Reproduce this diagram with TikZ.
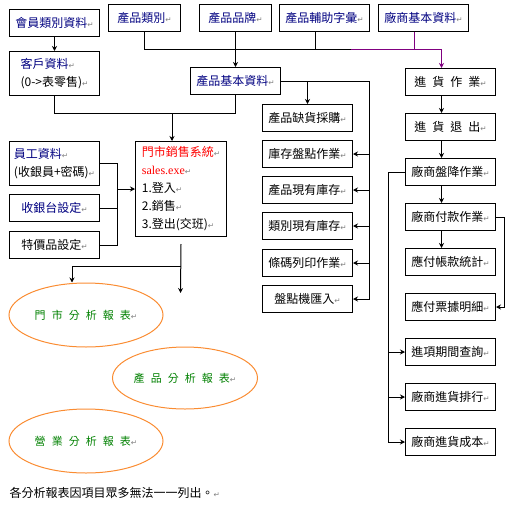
\documentclass[tikz,border=0pt]{standalone}
\usepackage{fontspec}
\setmainfont{Noto Sans CJK TC}
\newfontfamily\symfont{DejaVu Sans}
\newfontfamily\exefont{Liberation Serif}
\newfontfamily\widefont[LetterSpace=50]{Noto Sans CJK TC}
\newfontfamily\repfont[LetterSpace=55]{Noto Sans CJK TC}
\usetikzlibrary{arrows.meta,shapes.geometric}
\definecolor{navy}{RGB}{0,0,128}
\definecolor{posred}{RGB}{255,0,0}
\definecolor{repgreen}{RGB}{0,128,0}
\definecolor{ellorange}{RGB}{250,140,50}
\definecolor{vendpurple}{RGB}{128,0,128}
\newcommand\retmark{{\symfont\color{gray}\fontsize{7.5}{7.5}\selectfont ↵}}
\tikzset{
  box/.style={draw, minimum width=90pt, minimum height=27pt, inner sep=2pt,
    align=left, anchor=north west, font=\fontsize{12}{18}\selectfont},
  narrow/.style={box, minimum width=72pt},
  wide/.style={font=\widefont\fontsize{12}{18}\selectfont},
  report/.style={ellipse, draw=ellorange, inner sep=0pt, minimum width=154pt,
    minimum height=64pt, text=repgreen, font=\repfont\fontsize{11}{13}\selectfont},
  arr/.style={-{Stealth[length=5pt,width=5pt]}},
}

\begin{document}
\begin{tikzpicture}[x=1pt,y=-1pt,line width=1pt]
  \useasboundingbox (0,0) rectangle (511,506);

  % riga superiore
  \node[box,text=navy] (memtype) at (9,9) {會員類別資料\retmark};
  \node[narrow,text=navy] (prodcat) at (108,4) {產品類別\retmark};
  \node[narrow,text=navy] (brand) at (199,4) {產品品牌\retmark};
  \node[box,text=navy] (prodaux) at (279,4) {產品輔助字彙\retmark};
  \node[box,text=navy] (vendor) at (378,4) {廠商基本資料\retmark};

  % seconda riga
  \node[box,text=navy,minimum height=44pt] (customer) at (9,51)
    {客戶資料\retmark\\{\color{black}(0->表零售)}\retmark};
  \node[box,text=navy] (product) at (190,67) {產品基本資料\retmark};
  \node[box,wide] (purchase) at (405,68) {進貨作業\retmark};

  % colonna sinistra
  \node[box,text=navy,minimum height=44pt] (staff) at (9,141)
    {員工資料\retmark\\{\color{black}(收銀員+密碼)}\retmark};
  \node[box,text=navy] (register) at (9,194) {收銀台設定\retmark};
  \node[box] (special) at (9,231) {特價品設定\retmark};
  \node[box,minimum width=91pt,minimum height=95pt] (pos) at (135,141)
    {{\color{posred}門市銷售系統}\retmark\\{\exefont\color{posred}sales.exe}\retmark\\
     1.登入\retmark\\2.銷售\retmark\\3.登出(交班)\retmark};

  % colonna centrale
  \node[box] (shortage) at (262,104) {產品缺貨採購\retmark};
  \node[box] (count) at (262,140) {庫存盤點作業\retmark};
  \node[box] (onhand) at (262,176) {產品現有庫存\retmark};
  \node[box] (catstock) at (262,212) {類別現有庫存\retmark};
  \node[box] (barcode) at (262,249) {條碼列印作業\retmark};
  \node[box] (import) at (262,285) {盤點機匯入\retmark};

  % colonna destra
  \node[box,wide] (retour) at (405,113) {進貨退出\retmark};
  \node[box] (reduce) at (405,158) {廠商盤降作業\retmark};
  \node[box] (payment) at (405,203) {廠商付款作業\retmark};
  \node[box] (payable) at (405,248) {應付帳款統計\retmark};
  \node[box] (bills) at (405,293) {應付票據明細\retmark};
  \node[box] (query) at (405,338) {進項期間查詢\retmark};
  \node[box] (rank) at (405,383) {廠商進貨排行\retmark};
  \node[box] (cost) at (405,428) {廠商進貨成本\retmark};

  % rapporti
  \node[report] (storerep) at (86,315) {門市分析報表\retmark};
  \node[report,minimum width=145pt,minimum height=62pt] (prodrep) at (185,378) {產品分析報表\retmark};
  \node[report] (salesrep) at (86,441) {營業分析報表\retmark};
  \node[anchor=west,inner sep=0pt,font=\fontsize{12}{14}\selectfont] (note) at (9,493)
    {各分析報表因項目眾多無法一一列出。\retmark};

  % collegamenti in alto
  \coordinate (topbus) at (0,49);
  \coordinate (busend) at (351,49);
  \draw[arr] (memtype) -- (customer);
  \draw (prodcat.south) |- (busend);
  \draw[arr] (brand) -- (product);
  \draw ([xshift=-9pt]prodaux.south) -- ([xshift=-9pt]prodaux.south |- topbus);
  \draw[vendpurple] ([xshift=-9pt]vendor.south) -- ([xshift=-9pt]vendor.south |- topbus);
  \draw[vendpurple,arr] (busend) -| ([xshift=-9pt]purchase.north);

  % verso il sistema di vendita
  \coordinate (midbus) at (0,113);
  \draw (customer.south) |- (product.south |- midbus) -- (product.south);
  \draw[arr] ([xshift=-9pt]pos.north |- midbus) -- ([xshift=-9pt]pos.north);
  \coordinate (staffbus) at (117,0);
  \draw (staff.east) -| (staffbus |- special.east) -- (special.east);
  \draw (register.east) -- (staffbus |- register.east);
  \draw[arr] (staffbus |- pos.west) -- (pos.west);

  % uscita vendite
  \coordinate (posend) at (180.5,293);
  \coordinate (split) at (180.5,266);
  \draw[arr] ([yshift=-7pt]pos.south) -- (posend);
  \draw[arr] (split) -| ([xshift=-14pt]storerep.north);

  % magazzino
  \coordinate (stockbus) at (369,0);
  \draw[arr] (product.east) -| (stockbus |- import.east) -- (import.east);
  \draw[arr] (shortage.north |- product.east) -- (shortage.north);
  \foreach \n in {count,onhand,catstock,barcode}
    \draw[arr] (stockbus |- \n.east) -- (\n.east);

  % acquisti
  \draw[arr] ([xshift=-9pt]purchase.south) -- ([xshift=-9pt]retour.north);
  \draw[arr] ([xshift=-9pt]retour.south) -- ([xshift=-9pt]reduce.north);
  \draw[arr] ([xshift=-9pt]reduce.south) -- ([xshift=-9pt]payment.north);
  \draw[arr] ([xshift=-9pt]payment.south) -- ([xshift=-9pt]payable.north);
  \coordinate (vendbus) at (388,0);
  \draw[arr] (reduce.west) -| (vendbus |- cost.west) -- (cost.west);
  \draw[arr] (vendbus |- query.west) -- (query.west);
  \draw[arr] (vendbus |- rank.west) -- (rank.west);
  \coordinate (paybus) at (504,0);
  \draw[arr] (payment.east) -| (paybus |- bills.east) -- (bills.east);
\end{tikzpicture}
\end{document}
